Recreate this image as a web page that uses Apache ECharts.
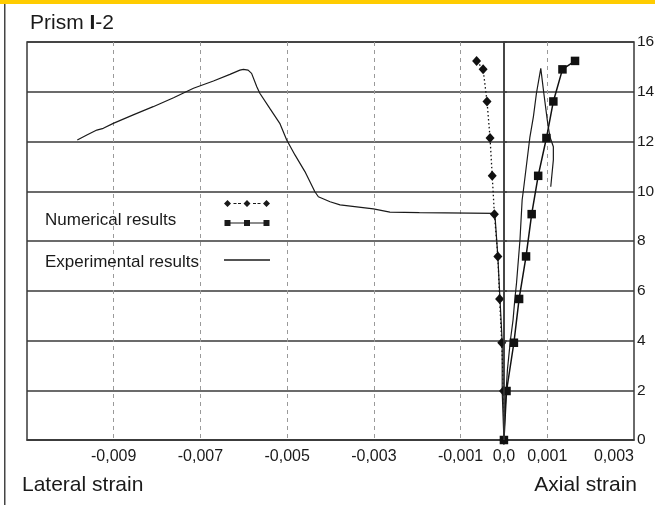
<!DOCTYPE html>
<html>
<head>
<meta charset="utf-8">
<script src="https://cdn.jsdelivr.net/npm/echarts@6/dist/echarts.min.js"></script>
<style>
  html, body { margin: 0; padding: 0; background: #fff; }
  #chart { width: 655px; height: 505px; }
</style>
</head>
<body>
<div id="chart"></div>
<script>
// Load levels shared by both numerical curves
const numLoad = [0, 1.97, 3.91, 5.67, 7.38, 9.08, 10.62, 12.14, 13.61, 14.9, 15.24];
// Numerical lateral strain (diamonds) and axial strain (squares)
const numLateral = [0, -0.00001, -0.00005, -0.0001, -0.00014, -0.00022, -0.00027, -0.00032, -0.00039, -0.00048, -0.00063];
const numAxial = [0, 0.00006, 0.00023, 0.00035, 0.00051, 0.00064, 0.00079, 0.00098, 0.00114, 0.00135, 0.00164];

// Experimental lateral strain curve
const expLatStrain = [0, -0.00004, -0.00004, -0.00009, -0.00014, -0.00021, -0.00078, -0.00195, -0.00263, -0.00301,
  -0.00378, -0.00401, -0.00428, -0.00436, -0.00459, -0.00482, -0.00501, -0.00517, -0.0054, -0.00563,
  -0.0057, -0.00582, -0.0059, -0.00601, -0.00609, -0.00632, -0.0067, -0.00716, -0.00762, -0.00809,
  -0.00855, -0.00901, -0.00924, -0.00939, -0.00962, -0.00984];
const expLatLoad = [0, 1.94, 3.95, 5.63, 7.37, 9.11, 9.12, 9.14, 9.16, 9.29,
  9.45, 9.58, 9.78, 9.98, 10.79, 11.46, 12.06, 12.73, 13.33, 13.94,
  14.2, 14.74, 14.87, 14.9, 14.87, 14.7, 14.43, 14.14, 13.76, 13.4,
  13.07, 12.73, 12.53, 12.46, 12.26, 12.06];

// Experimental axial strain curve
const expAxStrain = [0, 0.00002, 0.00005, 0.00008, 0.00015, 0.00021, 0.00025, 0.00029, 0.00037, 0.00042,
  0.00045, 0.0006, 0.00068, 0.00075, 0.00085, 0.00092, 0.001, 0.00106, 0.00114, 0.00114, 0.00108];
const expAxLoad = [0, 0.94, 1.94, 2.81, 4.02, 4.82, 5.63, 6.3, 8.04, 9.65,
  10.05, 12.19, 13.0, 13.94, 14.94, 13.94, 12.86, 12.19, 11.79, 11.26, 10.18];

// Strain axis tick labels (decimal comma)
const xTickValues = [-0.009, -0.007, -0.005, -0.003, -0.001, 0.001, 0.003];
const xTickLabels = ['-0,009', '-0,007', '-0,005', '-0,003', '-0,001', '0,001', '0,003'];
const zeroLabel = '0,0';

// Legend captions
const NUM_NAME = 'Numerical results';
const EXP_NAME = 'Experimental results';

const pairs = (xs, ys) => xs.map((x, i) => [x, ys[i]]);
const FONT = "'Liberation Sans', Arial, sans-serif";
const INK = '#1a1a1a';
const GRID_DARK = '#3a3a3a';
const plainText = size => ({ fontSize: size, fontWeight: 'normal', color: INK, fontFamily: FONT });

const chart = echarts.init(document.getElementById('chart'));
chart.setOption({
  animation: false,
  backgroundColor: '#fff',
  textStyle: { fontFamily: FONT },
  graphic: [
    { type: 'rect', left: 0, top: 0, shape: { width: 655, height: 4 }, style: { fill: '#ffcc00' } },
    { type: 'rect', left: 4, top: 4, shape: { width: 1.5, height: 501 }, style: { fill: '#444' } }
  ],
  title: [
    {
      text: '{a|Prism }{b|I}{a|-2}', left: 30, top: 13, padding: 0,
      textStyle: Object.assign(plainText(21), { rich: {
        a: plainText(21),
        b: Object.assign(plainText(21), { fontWeight: 'bold' })
      } })
    },
    { text: 'Lateral strain', left: 22, top: 475, padding: 0, textStyle: plainText(21) },
    { text: 'Axial strain', right: 18, top: 475, padding: 0, textStyle: plainText(21) },
    { text: NUM_NAME, left: 45, top: 212, padding: 0, textStyle: plainText(17) },
    { text: EXP_NAME, left: 45, top: 254, padding: 0, textStyle: plainText(17) }
  ],
  legend: {
    orient: 'vertical', left: 224, top: 200, padding: 0,
    itemWidth: 46, itemHeight: 26, itemGap: 21,
    selectedMode: false,
    itemStyle: { color: INK, borderWidth: 0 },
    formatter: () => '',
    data: [
      { name: NUM_NAME,
        icon: 'path://M3.5,0L7,3.5L3.5,7L0,3.5Z M9.5,3H12.5V4H9.5Z M14,3H17V4H14Z M23,0L26.5,3.5L23,7L19.5,3.5Z M29,3H32V4H29Z M33.5,3H36.5V4H33.5Z M42.5,0L46,3.5L42.5,7L39,3.5Z M0.5,20H6.5V26H0.5Z M20,20H26V26H20Z M39.5,20H45.5V26H39.5Z M6.5,22.4H39.5V23.6H6.5Z' },
      { name: EXP_NAME, icon: 'path://M0,0H46V1.3H0Z' }
    ]
  },
  grid: {
    left: 27, right: 21, top: 42, bottom: 65,
    outerBoundsMode: 'none', containLabel: false,
    show: true, borderColor: GRID_DARK, borderWidth: 1.5, backgroundColor: 'transparent'
  },
  xAxis: {
    type: 'value', min: -0.011, max: 0.003, interval: 0.002,
    axisLine: { show: true, lineStyle: { color: GRID_DARK, width: 1.5 } },
    axisTick: { show: false },
    axisLabel: {
      margin: 9, fontSize: 16, color: INK, fontFamily: FONT, alignMaxLabel: 'right',
      formatter: v => {
        const i = xTickValues.findIndex(t => Math.abs(t - v) < 1e-9);
        return i >= 0 ? xTickLabels[i] : '';
      }
    },
    splitLine: { show: true, showMinLine: false, showMaxLine: false,
      lineStyle: { color: '#9a9a9a', width: 1, type: [4, 4] } }
  },
  yAxis: {
    type: 'value', position: 'right', min: 0, max: 16, interval: 2,
    axisLine: { show: true, lineStyle: { color: GRID_DARK, width: 1.5 } },
    axisTick: { show: true, length: 3, lineStyle: { color: GRID_DARK, width: 1.5 } },
    axisLabel: { margin: 3, fontSize: 15.5, color: INK, fontFamily: FONT },
    splitLine: { show: true, lineStyle: { color: GRID_DARK, width: 1.5 } }
  },
  series: [
    {
      name: EXP_NAME, type: 'line', data: pairs(expLatStrain, expLatLoad),
      symbol: 'none', lineStyle: { color: INK, width: 1.2 }, itemStyle: { color: INK }, z: 3,
      markLine: {
        silent: true, symbol: 'none',
        lineStyle: { color: GRID_DARK, width: 1.5, type: 'solid' },
        label: { position: 'start', formatter: zeroLabel, fontSize: 16, color: INK, fontFamily: FONT, distance: 9 },
        data: [{ xAxis: 0 }]
      }
    },
    {
      name: EXP_NAME, type: 'line', data: pairs(expAxStrain, expAxLoad),
      symbol: 'none', lineStyle: { color: INK, width: 1.2 }, itemStyle: { color: INK }, z: 3
    },
    {
      name: NUM_NAME, type: 'line', data: pairs(numLateral, numLoad),
      symbol: 'diamond', symbolSize: [9, 10], showAllSymbol: true,
      itemStyle: { color: '#111', borderWidth: 0 },
      lineStyle: { color: '#111', width: 1.3, type: [1.5, 2.5] }, z: 4
    },
    {
      name: NUM_NAME, type: 'line', data: pairs(numAxial, numLoad),
      symbol: 'rect', symbolSize: 8.5, showAllSymbol: true,
      itemStyle: { color: '#111', borderWidth: 0 },
      lineStyle: { color: '#111', width: 1.5 }, z: 4
    }
  ]
});
</script>
</body>
</html>
